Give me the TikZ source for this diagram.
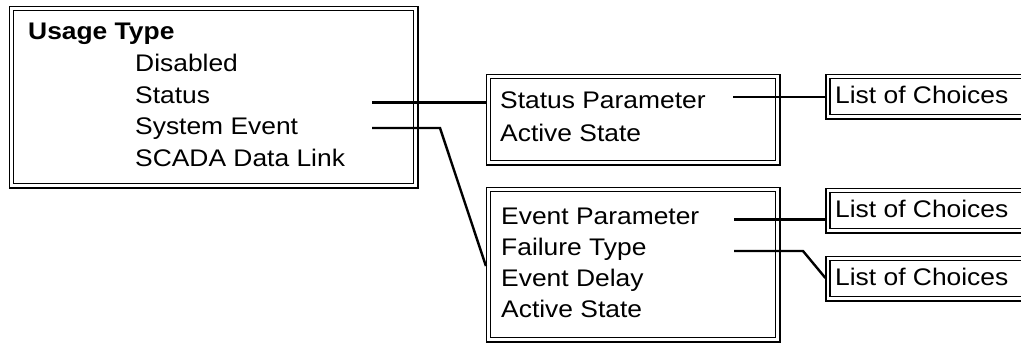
\documentclass[tikz,border=0pt]{standalone}
\usepackage{fontspec}
\setmainfont[FakeStretch=1.1]{Liberation Sans}
\begin{document}
\begin{tikzpicture}[x=1pt,y=-1pt,
  box/.style={draw, double, line width=1.2pt, double distance=2.8pt, rectangle, inner sep=0pt, outer sep=2.6pt},
  txt/.style={anchor=base west, inner sep=0pt, font=\fontsize{24}{28}\selectfont},
  conn/.style={line width=2.4pt},
  shd/.style={line width=1.2pt}]
\useasboundingbox (0,0) rectangle (1021,344);
\clip (0,0) rectangle (1021,344);
% boxes
\node[box, minimum width=404pt, minimum height=177pt] (b1) at (213.5,97) {};
\node[box, minimum width=289pt, minimum height=86pt] (b2) at (633,119.5) {};
\node[box, minimum width=289pt, minimum height=150pt] (b3) at (633,264.5) {};
\node[box, minimum width=212pt, minimum height=40pt] (c1) at (934,96.5) {};
\node[box, minimum width=212pt, minimum height=40pt] (c2) at (934,210.5) {};
\node[box, minimum width=212pt, minimum height=40pt] (c3) at (934,278.5) {};
% shadows (thicker bottom and right edges)
\foreach \b in {b1,b2,b3,c1,c2,c3}{
  \draw[shd] ([yshift=-0.6pt]\b.south west) -- ([xshift=0.6pt,yshift=-0.6pt]\b.south east) -- ([xshift=0.6pt]\b.north east);
}
% texts
\node[txt] (ut) at (28,40) {\textbf{Usage Type}};
\node[txt] (ud) at (135,72) {Disabled};
\node[txt] (us) at (135,103.5) {Status};
\node[txt] (ue) at (135,135) {System Event};
\node[txt] (ul) at (135,167) {SCADA Data Link};
\node[txt] (sp) at (500,108.5) {Status Parameter};
\node[txt] (sa) at (500,141.5) {Active State};
\node[txt] (ep) at (501,225) {Event Parameter};
\node[txt] (ef) at (501,256) {Failure Type};
\node[txt] (ed) at (501,287) {Event Delay};
\node[txt] (ea) at (501,318) {Active State};
\node[txt] (l1) at (835,104) {List of Choices};
\node[txt] (l2) at (835,218) {List of Choices};
\node[txt] (l3) at (835,286) {List of Choices};
% connectors
\coordinate (s1) at (372,102.5);
\coordinate (s2) at (372,128);
\coordinate (k2) at (440,128);
\coordinate (s3) at (733,97);
\coordinate (s4) at (734,219.5);
\coordinate (s5) at (734,251);
\coordinate (k5) at (803,251);
\draw[conn] (s1) -- (s1 -| b2.west);
\draw[conn] (s2) -- (k2) -- (b3.west |- 0,266);
\draw[conn] (s3) -- (s3 -| c1.west);
\draw[conn] (s4) -- (s4 -| c2.west);
\draw[conn] (s5) -- (k5) -- (c3.west |- 0,278);
\end{tikzpicture}
\end{document}
